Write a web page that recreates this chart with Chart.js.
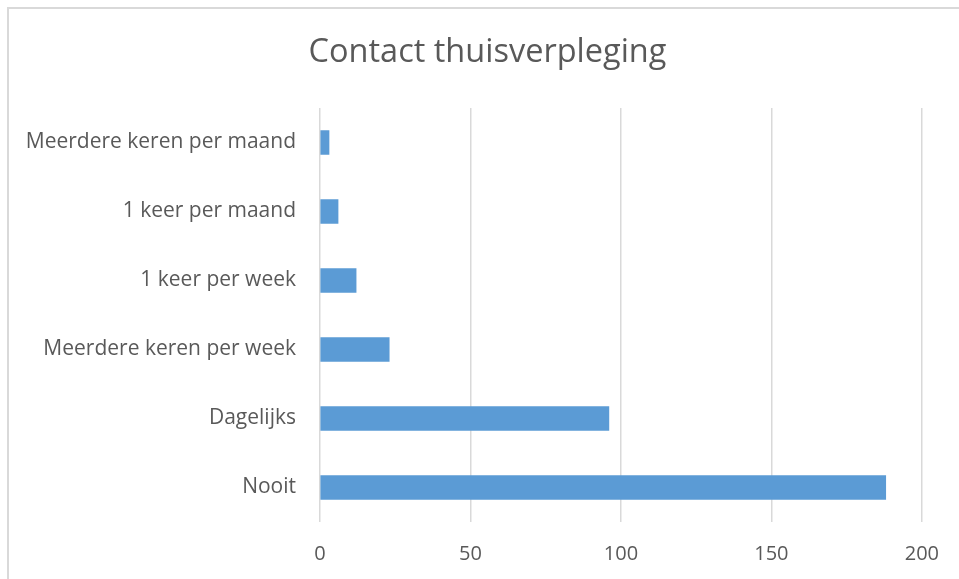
<!DOCTYPE html>
<html>
<head>
<meta charset="utf-8">
<script src="https://cdn.jsdelivr.net/npm/chart.js@4.4.1/dist/chart.umd.min.js"></script>
<style>
  html, body { margin: 0; padding: 0; background: #ffffff; }
  #wrap { position: relative; width: 959px; height: 579px; overflow: hidden; }
  #frame { position: absolute; left: 7px; top: 7px; width: 960px; height: 580px;
           border-left: 2px solid #d9d9d9; border-top: 2px solid #d9d9d9; box-sizing: border-box; pointer-events: none; }
  canvas { position: absolute; left: 0; top: 0; }
</style>
</head>
<body>
<div id="wrap">
  <canvas id="c" width="959" height="579"></canvas>
  <div id="frame"></div>
</div>
<script>
const titleText = "Contact thuisverpleging";
const categories = [
  "Meerdere keren per maand",
  "1 keer per maand",
  "1 keer per week",
  "Meerdere keren per week",
  "Dagelijks",
  "Nooit"
];
const values = [3, 6, 12, 23, 96, 188];
const xTicks = [0, 50, 100, 150, 200];

const textColor = "#595959";
const gridColor = "#d9d9d9";
const barColor = "#5b9bd5";
const fontFamily = "'Open Sans', 'Noto Sans', sans-serif";

const widenLabelClip = {
  id: "widenLabelClip",
  afterLayout(chart) { chart.scales.y.left = 0; }
};

new Chart(document.getElementById("c"), {
  type: "bar",
  data: {
    labels: categories,
    datasets: [{
      data: values,
      backgroundColor: barColor,
      borderWidth: 0,
      barThickness: 24
    }]
  },
  plugins: [widenLabelClip],
  options: {
    indexAxis: "y",
    responsive: false,
    animation: false,
    devicePixelRatio: 1,
    layout: { padding: { left: 53, right: 37, top: 0, bottom: 0 } },
    plugins: {
      legend: { display: false },
      tooltip: { enabled: false },
      title: {
        display: true,
        text: titleText,
        color: textColor,
        font: { family: fontFamily, size: 32.5, weight: "normal" },
        padding: { top: 33.5, bottom: 35.5 }
      }
    },
    scales: {
      x: {
        type: "linear",
        min: xTicks[0],
        max: xTicks[xTicks.length - 1],
        afterBuildTicks: (scale) => { scale.ticks = xTicks.map(v => ({ value: v })); },
        afterFit: (scale) => { scale.height = 57; },
        grid: { color: gridColor, lineWidth: 1.5, drawTicks: false },
        border: { display: false },
        ticks: { color: textColor, font: { family: fontFamily, size: 20 }, padding: 20 }
      },
      y: {
        afterFit: (scale) => { scale.width = 267; },
        grid: { display: false, drawTicks: false },
        border: { display: false },
        ticks: { color: textColor, font: { family: fontFamily, size: 21 }, padding: 24 }
      }
    }
  }
});
</script>
</body>
</html>
